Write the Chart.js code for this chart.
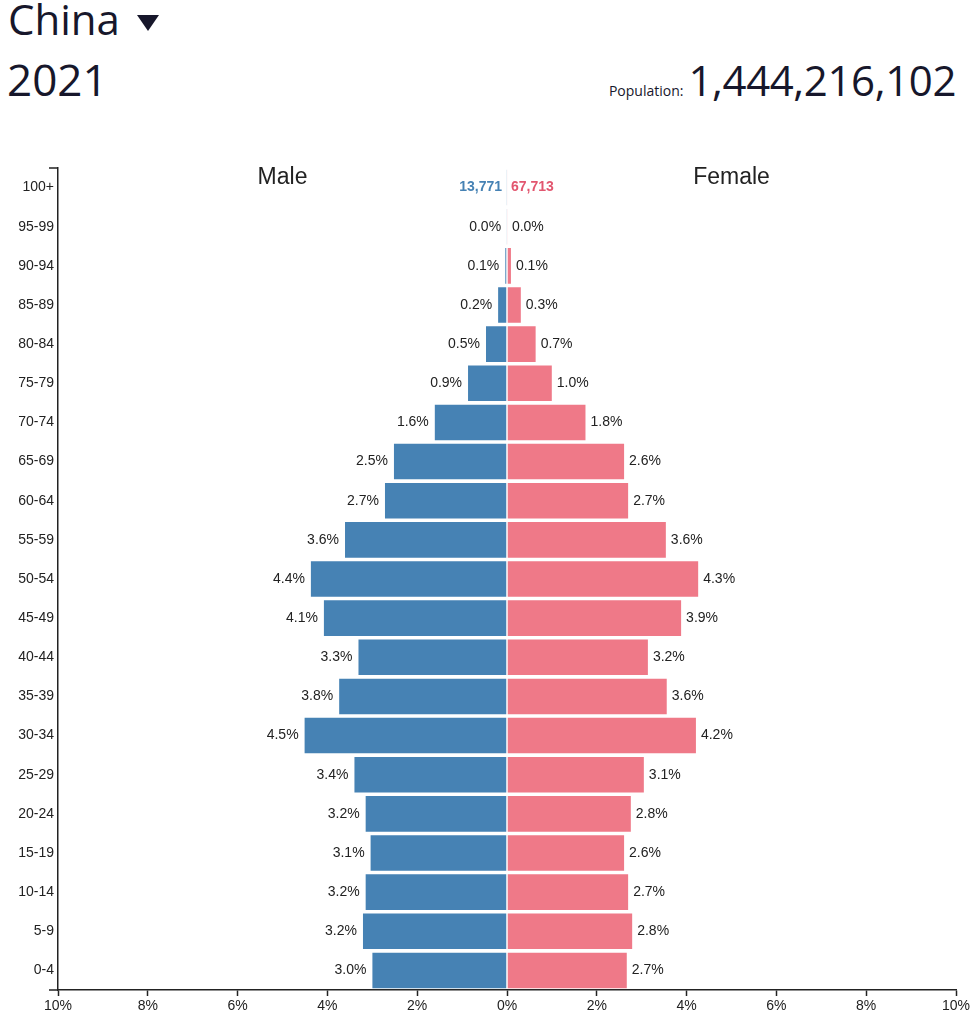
<!DOCTYPE html>
<html lang="en">
<head>
<meta charset="UTF-8">
<title>China 2021</title>
<script src="https://cdn.jsdelivr.net/npm/chart.js"></script>
<style>
    html, body { margin: 0; padding: 0; background: #fff; }
    body { width: 979px; height: 1033px; position: relative; overflow: hidden; }
    .head { position: absolute; font-family: "Open Sans", sans-serif; color: #17172b; white-space: nowrap; }
    #country { left: 8px; top: -10px; font-size: 42px; }
    #arrow { position: absolute; left: 137px; top: 15px; width: 0; height: 0;
        border-left: 11px solid transparent; border-right: 11px solid transparent; border-top: 16px solid #17172b; }
    #year { left: 7px; top: 49px; font-size: 44px; }
    #pop { right: 23px; top: 51px; font-size: 42px; letter-spacing: -0.4px; }
    #pop small { font-size: 14px; margin-right: 5px; letter-spacing: 0; }
    #wrap { position: absolute; left: 0; top: 0; width: 979px; height: 1033px; }
</style>
</head>
<body>
<div class="head" id="country">China</div>
<div id="arrow"></div>
<div class="head" id="year">2021</div>
<div class="head" id="pop"><small>Population:</small>1,444,216,102</div>
<div id="wrap"><canvas id="pyramid"></canvas></div>

<script>
// data (share of total population, %)
const ageGroups = ['100+', '95-99', '90-94', '85-89', '80-84', '75-79', '70-74', '65-69', '60-64', '55-59',
    '50-54', '45-49', '40-44', '35-39', '30-34', '25-29', '20-24', '15-19', '10-14', '5-9', '0-4'];
const malePct = [null, 0.02, 0.06, 0.22, 0.49, 0.89, 1.63, 2.54, 2.74, 3.63,
    4.39, 4.10, 3.33, 3.76, 4.53, 3.42, 3.17, 3.06, 3.17, 3.23, 3.02];
const femalePct = [null, 0.02, 0.11, 0.33, 0.66, 1.02, 1.77, 2.63, 2.72, 3.56,
    4.28, 3.90, 3.16, 3.58, 4.23, 3.07, 2.78, 2.63, 2.72, 2.81, 2.69];
const totalPopulation = 1444216102;
const male100 = 13771;
const female100 = 67713;
const xTicks = [-10, -8, -6, -4, -2, 0, 2, 4, 6, 8, 10];

const MALE = '#4682b4';
const FEMALE = '#ef7988';
const INK = '#222';
const FONT = 'Arial, "Liberation Sans", sans-serif';

// 100+ row is only a sliver, its label is the head count
malePct[0] = male100 / totalPopulation * 100;
femalePct[0] = female100 / totalPopulation * 100;

const fmt = n => n.toLocaleString('en-US');

const labelPlugin = {
    id: 'barLabels',
    afterDatasetsDraw(chart) {
        const ctx = chart.ctx;
        const area = chart.chartArea;
        const xs = chart.scales.x;
        const zero = xs.getPixelForValue(0);
        ctx.save();
        ctx.textBaseline = 'middle';
        chart.getDatasetMeta(0).data.forEach((bar, i) => {
            if (i === 0) {
                ctx.font = 'bold 14px ' + FONT;
                ctx.fillStyle = MALE;
                ctx.textAlign = 'right';
                ctx.fillText(fmt(male100), zero - 5, bar.y);
                return;
            }
            ctx.font = '14px ' + FONT;
            ctx.fillStyle = INK;
            ctx.textAlign = 'right';
            ctx.fillText(malePct[i].toFixed(1) + '%', bar.x - 5, bar.y);
        });
        chart.getDatasetMeta(1).data.forEach((bar, i) => {
            if (i === 0) {
                ctx.font = 'bold 14px ' + FONT;
                ctx.fillStyle = '#e2566f';
                ctx.textAlign = 'left';
                ctx.fillText(fmt(female100), zero + 4, bar.y);
                return;
            }
            ctx.font = '14px ' + FONT;
            ctx.fillStyle = INK;
            ctx.textAlign = 'left';
            ctx.fillText(femalePct[i].toFixed(1) + '%', bar.x + 4, bar.y);
        });

        // side titles
        ctx.font = '23px ' + FONT;
        ctx.fillStyle = INK;
        ctx.textAlign = 'center';
        ctx.fillText('Male', (area.left + zero) / 2, area.top + 10);
        ctx.fillText('Female', (area.right + zero) / 2, area.top + 10);

        // outer ticks of the axes
        ctx.strokeStyle = INK;
        ctx.lineWidth = 1.5;
        ctx.beginPath();
        ctx.moveTo(area.left - 9, area.top);
        ctx.lineTo(area.left, area.top);
        ctx.moveTo(area.left - 9, area.bottom);
        ctx.lineTo(area.left, area.bottom);
        ctx.stroke();
        ctx.restore();
    }
};

new Chart(document.getElementById('pyramid'), {
    type: 'bar',
    data: {
        labels: ageGroups,
        datasets: [{
            label: 'Male',
            data: malePct.map(v => -v),
            backgroundColor: MALE,
            borderColor: 'rgba(255,255,255,0.3)',
            borderWidth: 1,
            barPercentage: 0.96,
            categoryPercentage: 1
        }, {
            label: 'Female',
            data: femalePct,
            backgroundColor: FEMALE,
            borderColor: 'rgba(255,255,255,0.3)',
            borderWidth: 1,
            barPercentage: 0.96,
            categoryPercentage: 1
        }]
    },
    options: {
        indexAxis: 'y',
        responsive: true,
        maintainAspectRatio: false,
        animation: false,
        layout: { padding: { top: 168, right: 23, left: 0, bottom: 0 } },
        plugins: { legend: { display: false }, tooltip: { enabled: false } },
        scales: {
            x: {
                stacked: true,
                min: -10,
                max: 10,
                afterBuildTicks: s => { s.ticks = xTicks.map(v => ({ value: v })); },
                afterFit: s => { s.height = 43; },
                grid: { drawOnChartArea: false, drawTicks: true, tickLength: 6, color: INK, tickWidth: 1.5 },
                border: { display: true, color: INK, width: 1.5 },
                ticks: {
                    color: INK,
                    padding: 2,
                    maxRotation: 0,
                    font: { family: FONT, size: 14 },
                    callback: v => Math.abs(v) + '%'
                }
            },
            y: {
                stacked: true,
                afterFit: s => { s.width = 58; },
                grid: { display: false, drawTicks: false },
                border: { display: true, color: INK, width: 1.5 },
                ticks: {
                    color: INK,
                    padding: 4,
                    font: { family: FONT, size: 14 }
                }
            }
        }
    },
    plugins: [labelPlugin]
});
</script>
</body>
</html>
